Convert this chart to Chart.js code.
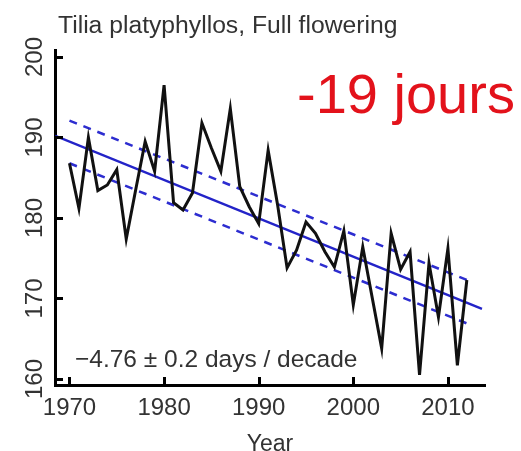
<!DOCTYPE html>
<html>
<head>
<meta charset="utf-8">
<script src="https://cdn.jsdelivr.net/npm/chart.js@4"></script>
<style>
  html, body { margin: 0; padding: 0; background: #fff; }
  #wrap { width: 521px; height: 451px; }
</style>
</head>
<body>
<div id="wrap"><canvas id="chart" width="521" height="451"></canvas></div>
<script>
// Full flowering day of year, Tilia platyphyllos
const years = [1970, 1971, 1972, 1973, 1974, 1975, 1976, 1977, 1978, 1979,
  1980, 1981, 1982, 1983, 1984, 1985, 1986, 1987, 1988, 1989,
  1990, 1991, 1992, 1993, 1994, 1995, 1996, 1997, 1998, 1999,
  2000, 2001, 2002, 2003, 2004, 2005, 2006, 2007, 2008, 2009,
  2010, 2011, 2012];
const flowering = [186.8, 181.2, 190.0, 183.4, 184.1, 186.0, 177.4, 183.5, 189.5, 185.8,
  196.5, 181.9, 181.0, 183.1, 191.8, 188.7, 185.8, 193.6, 183.9, 181.4,
  179.3, 188.4, 181.6, 173.8, 176.0, 179.5, 178.1, 175.8, 173.9, 178.4,
  169.2, 176.4, 170.1, 163.8, 178.1, 173.6, 175.8, 160.5, 174.4, 167.7,
  176.2, 161.7, 172.3];

// Linear trend and its confidence band
const trendYears = [1968.5, 2013.6];
const trendDays = [190.2, 168.7];
const bandYears = [1970, 2012];
const upperBand = [192.1, 172.3];
const lowerBand = [186.8, 166.9];

const xTicks = [1970, 1980, 1990, 2000, 2010];
const yTicks = [160, 170, 180, 190, 200];

const titleText = 'Tilia platyphyllos, Full flowering';
const shiftText = '-19 jours';
const rateText = '\u22124.76 \u00b1 0.2 days / decade';

const FONT = '"Liberation Sans", Arial, sans-serif';

const toPoints = (xs, ys) => xs.map((x, i) => ({ x: x, y: ys[i] }));

// Inward tick marks and the free text on the plot
const annotations = {
  id: 'annotations',
  afterDraw(chart) {
    const { ctx, chartArea, scales } = chart;
    ctx.save();
    ctx.strokeStyle = '#000';
    ctx.lineWidth = 3;
    yTicks.forEach(v => {
      const py = Math.round(scales.y.getPixelForValue(v)) + 0.5;
      ctx.beginPath();
      ctx.moveTo(chartArea.left, py);
      ctx.lineTo(chartArea.left + 8, py);
      ctx.stroke();
    });
    xTicks.forEach(v => {
      const px = Math.round(scales.x.getPixelForValue(v)) + 0.5;
      ctx.beginPath();
      ctx.moveTo(px, chartArea.bottom);
      ctx.lineTo(px, chartArea.bottom - 8);
      ctx.stroke();
    });

    ctx.textBaseline = 'alphabetic';
    ctx.textAlign = 'left';
    ctx.fillStyle = '#333';
    ctx.font = '24.7px ' + FONT;
    ctx.fillText(titleText, 58, 33);

    ctx.fillStyle = '#e3121b';
    ctx.font = '56px ' + FONT;
    ctx.fillText(shiftText, 297, 113);

    ctx.fillStyle = '#333';
    ctx.font = '24.5px ' + FONT;
    ctx.fillText(rateText, 75, 367);
    ctx.restore();
  }
};

const ctx = document.getElementById('chart').getContext('2d');
const chart = new Chart(ctx, {
  type: 'line',
  data: {
    datasets: [
      {
        data: toPoints(years, flowering),
        borderColor: '#111',
        borderWidth: 3,
        pointRadius: 0,
        tension: 0
      },
      {
        data: toPoints(trendYears, trendDays),
        borderColor: '#2323c8',
        borderWidth: 2.5,
        pointRadius: 0
      },
      {
        data: toPoints(bandYears, upperBand),
        borderColor: '#2d2dd0',
        borderWidth: 2.5,
        borderDash: [8, 7],
        pointRadius: 0
      },
      {
        data: toPoints(bandYears, lowerBand),
        borderColor: '#2d2dd0',
        borderWidth: 2.5,
        borderDash: [8, 7],
        pointRadius: 0
      }
    ]
  },
  options: {
    responsive: false,
    devicePixelRatio: 1,
    animation: false,
    layout: { padding: { top: 50, right: 36, left: 0, bottom: 0 } },
    plugins: {
      legend: { display: false },
      tooltip: { enabled: false }
    },
    scales: {
      x: {
        type: 'linear',
        min: 1968.47,
        max: 2013.92,
        afterBuildTicks: scale => { scale.ticks = xTicks.map(v => ({ value: v })); },
        afterFit: scale => { scale.height = 66; },
        grid: { display: false, drawTicks: false },
        border: { display: true, color: '#000', width: 3 },
        ticks: {
          color: '#333',
          font: { family: FONT, size: 24 },
          padding: 9,
          maxRotation: 0,
          callback: v => String(v)
        },
        title: {
          display: true,
          text: 'Year',
          color: '#333',
          font: { family: FONT, size: 23 },
          padding: { top: 0, bottom: -7 }
        }
      },
      y: {
        min: 159.25,
        max: 200.87,
        afterBuildTicks: scale => { scale.ticks = yTicks.map(v => ({ value: v })); },
        afterFit: scale => { scale.width = 55; },
        grid: { display: false, drawTicks: false },
        border: { display: true, color: '#000', width: 3 },
        ticks: {
          color: '#333',
          font: { family: FONT, size: 24 },
          padding: 0,
          minRotation: 90,
          maxRotation: 90,
          crossAlign: 'center',
          callback: v => String(v)
        }
      }
    }
  },
  plugins: [annotations]
});
</script>
</body>
</html>
